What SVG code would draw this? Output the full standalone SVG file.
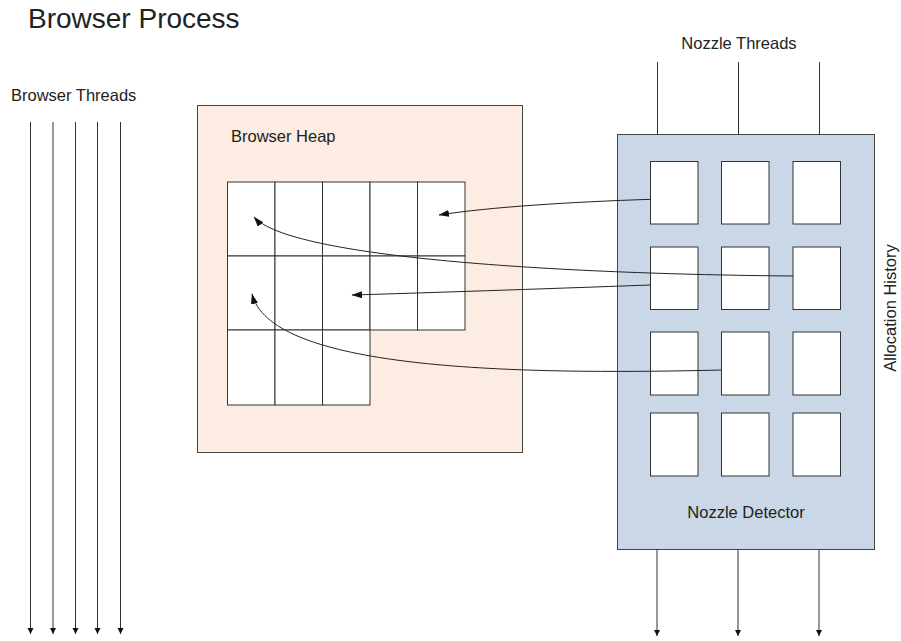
<svg xmlns="http://www.w3.org/2000/svg" width="901" height="641" viewBox="0 0 901 641">
<style>
  text { font-family: "Liberation Sans", Arial, sans-serif; fill: #222; }
  .lbl { font-size: 16.5px; }
  .cell { fill: #ffffff; stroke: #333; stroke-width: 1; }
  .line { stroke: #333; stroke-width: 1; fill: none; }
  .conn { stroke: #222; stroke-width: 1; fill: none; marker-end: url(#ah); }
  .thr { stroke: #333; stroke-width: 1; fill: none; marker-end: url(#ahs); }
</style>
<defs>
  <marker id="ah" markerUnits="userSpaceOnUse" markerWidth="11" markerHeight="8" refX="10" refY="3.5" orient="auto">
    <path d="M0,0 L10.5,3.5 L0,7 z" fill="#111"/>
  </marker>
  <marker id="ahs" markerUnits="userSpaceOnUse" markerWidth="7" markerHeight="7" refX="6" refY="3" orient="auto">
    <path d="M0,0 L6,3 L0,6 z" fill="#111"/>
  </marker>
</defs>
<rect width="901" height="641" fill="#ffffff"/>

<g id="title"><text x="28" y="28" style="font-size:28px">Browser Process</text></g>

<g id="browser-threads">
  <text class="lbl" x="11" y="101">Browser Threads</text>
  <line class="thr" x1="30.5" y1="122" x2="30.5" y2="634"/>
  <line class="thr" x1="53" y1="122" x2="53" y2="634"/>
  <line class="thr" x1="75.5" y1="122" x2="75.5" y2="634"/>
  <line class="thr" x1="97.5" y1="122" x2="97.5" y2="634"/>
  <line class="thr" x1="120.5" y1="122" x2="120.5" y2="634"/>
</g>

<g id="browser-heap">
  <rect x="197.5" y="105.5" width="325" height="347" fill="#fcece1" stroke="#444" stroke-width="1"/>
  <text class="lbl" x="231" y="142">Browser Heap</text>
  <g id="heap-grid">
    <rect class="cell" x="227.5" y="182" width="47.5" height="74"/>
    <rect class="cell" x="275" y="182" width="47.5" height="74"/>
    <rect class="cell" x="322.5" y="182" width="47.5" height="74"/>
    <rect class="cell" x="370" y="182" width="47.5" height="74"/>
    <rect class="cell" x="417.5" y="182" width="47.5" height="74"/>
    <rect class="cell" x="227.5" y="256" width="47.5" height="74"/>
    <rect class="cell" x="275" y="256" width="47.5" height="74"/>
    <rect class="cell" x="322.5" y="256" width="47.5" height="74"/>
    <rect class="cell" x="370" y="256" width="47.5" height="74"/>
    <rect class="cell" x="417.5" y="256" width="47.5" height="74"/>
    <rect class="cell" x="227.5" y="330" width="47.5" height="75"/>
    <rect class="cell" x="275" y="330" width="47.5" height="75"/>
    <rect class="cell" x="322.5" y="330" width="47.5" height="75"/>
  </g>
</g>

<g id="nozzle-threads">
  <text class="lbl" x="739" y="49" text-anchor="middle">Nozzle Threads</text>
  <line class="line" x1="657.5" y1="62" x2="657.5" y2="134"/>
  <line class="line" x1="738.5" y1="62" x2="738.5" y2="134"/>
  <line class="line" x1="819.5" y1="62" x2="819.5" y2="134"/>
</g>

<g id="nozzle-detector">
  <rect x="617.5" y="134.5" width="257" height="415" fill="#c9d7e6" stroke="#444" stroke-width="1"/>
  <text class="lbl" x="746" y="518" text-anchor="middle">Nozzle Detector</text>
  <g id="history-cells">
    <rect class="cell" x="650.5" y="161.5" width="47.5" height="62.5"/>
    <rect class="cell" x="721.5" y="161.5" width="47.5" height="62.5"/>
    <rect class="cell" x="793" y="161.5" width="47.5" height="62.5"/>
    <rect class="cell" x="650.5" y="247" width="47.5" height="62.5"/>
    <rect class="cell" x="721.5" y="247" width="47.5" height="62.5"/>
    <rect class="cell" x="793" y="247" width="47.5" height="62.5"/>
    <rect class="cell" x="650.5" y="332" width="47.5" height="63"/>
    <rect class="cell" x="721.5" y="332" width="47.5" height="63"/>
    <rect class="cell" x="793" y="332" width="47.5" height="63"/>
    <rect class="cell" x="650.5" y="413" width="47.5" height="63"/>
    <rect class="cell" x="721.5" y="413" width="47.5" height="63"/>
    <rect class="cell" x="793" y="413" width="47.5" height="63"/>
  </g>
</g>

<g id="nozzle-output">
  <line class="thr" x1="657" y1="549.5" x2="657" y2="636"/>
  <line class="thr" x1="738" y1="549.5" x2="738" y2="636"/>
  <line class="thr" x1="819" y1="549.5" x2="819" y2="636"/>
</g>

<g id="allocation-history">
  <text transform="translate(896,308) rotate(-90)" text-anchor="middle" style="font-size:16.5px">Allocation History</text>
</g>

<g id="connectors">
  <path class="conn" d="M650.5,199.3 C570,202 490,207 439,215"/>
  <path class="conn" d="M793,276 C560,274 290,258 254,217"/>
  <path class="conn" d="M650.5,285 C540,289 420,293 352,295"/>
  <path class="conn" d="M721.5,370 C480,376 270,365 252,294"/>
</g>
</svg>
